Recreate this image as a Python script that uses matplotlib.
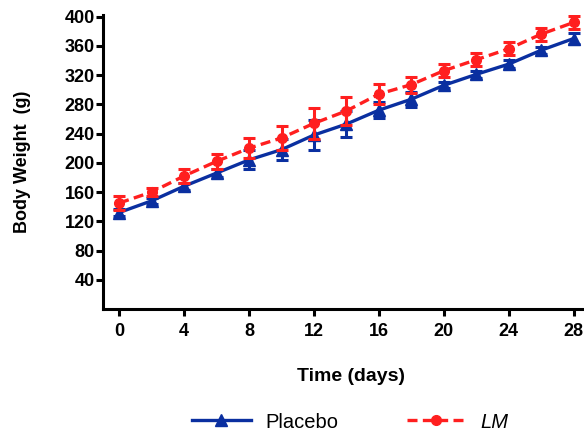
import matplotlib
matplotlib.use("Agg")
import matplotlib.pyplot as plt
from matplotlib.lines import Line2D

plt.rcParams['font.family'] = ['Liberation Sans', 'DejaVu Sans']

days = [0, 2, 4, 6, 8, 10, 12, 14, 16, 18, 20, 22, 24, 26, 28]
placebo = [132, 148, 168, 186, 204, 218, 238, 253, 272, 287, 306, 321, 335, 354, 370]
placebo_err = [5, 4, 5, 6, 13, 14, 21, 18, 11, 10, 4, 5, 6, 5, 8]
lm = [145, 160, 182, 202, 220, 234, 254, 271, 294, 307, 326, 341, 356, 376, 392]
lm_err = [9, 6, 9, 10, 14, 16, 21, 19, 14, 11, 9, 9, 9, 9, 9]

yticks = [40, 80, 120, 160, 200, 240, 280, 320, 360, 400]
xticks = [0, 4, 8, 12, 16, 20, 24, 28]

fig = plt.figure(figsize=(5.84, 4.36), dpi=100)
ax = fig.add_axes([0.1764, 0.2913, 0.8476, 0.674])

blue = '#0a2fa0'
red = '#ff1f1f'
dash = (0, (3, 1.6))

ax.errorbar(days, placebo, yerr=placebo_err, color=blue, lw=2.4, marker='^', ms=8.5,
            capsize=4.5, capthick=2.2, elinewidth=2.2, zorder=3)
ax.errorbar(days, lm, yerr=lm_err, color=red, lw=2.4, ls=dash, marker='o', ms=7,
            capsize=4.5, capthick=2.2, elinewidth=2.2, zorder=4)

ax.set_xlim(-1, 29.5)
ax.set_ylim(0, 402)
ax.set_xticks(xticks)
ax.set_yticks(yticks)

for s in ['top', 'right']:
    ax.spines[s].set_visible(False)
for s in ['left', 'bottom']:
    ax.spines[s].set_linewidth(2.2)

ax.tick_params(width=2.2, length=5, labelsize=13)
ax.tick_params(axis='x', pad=5)
ax.tick_params(axis='y', pad=1)
for lab in ax.get_xticklabels() + ax.get_yticklabels():
    lab.set_fontweight('bold')

ax.set_xlabel('Time (days)', fontsize=14, fontweight='bold', labelpad=20)
ax.set_ylabel('Body Weight  (g)', fontsize=13, fontweight='bold', labelpad=24)

handles = [Line2D([], [], color=blue, lw=2.4, marker='^', ms=8.5),
           Line2D([], [], color=red, lw=2.4, ls=dash, marker='o', ms=7)]
leg = fig.legend(handles, ['Placebo', 'LM'], loc='center', bbox_to_anchor=(0.60, 0.032),
                 ncol=2, frameon=False, fontsize=14.5, handlelength=2.9,
                 handletextpad=0.75, columnspacing=3.4)
leg.get_texts()[1].set_fontstyle('italic')

fig.savefig('out.png', dpi=100)
